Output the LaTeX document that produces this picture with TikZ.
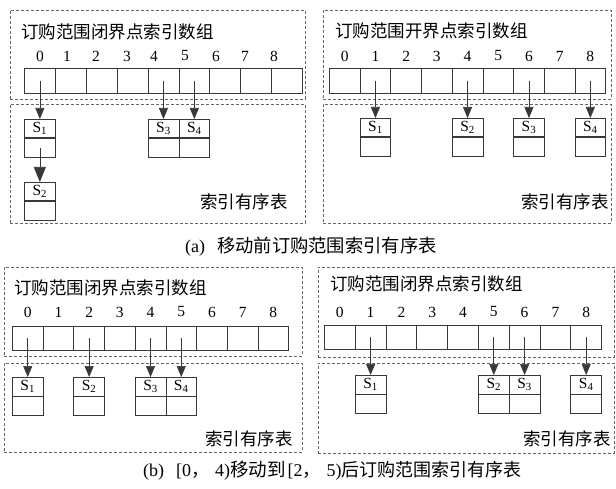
\documentclass[tikz,border=0pt]{standalone}
\usepackage{fontspec}
\setmainfont{Liberation Serif}
\newfontfamily\cjk{Noto Sans CJK SC}
\usetikzlibrary{arrows.meta}
\definecolor{linec}{gray}{0.22}
\definecolor{dashc}{gray}{0.4}
\begin{document}
\begin{tikzpicture}[x=1pt,y=-1pt,
  dbox/.style={draw=dashc, line width=0.8pt, dash pattern=on 3pt off 2pt, anchor=north west, inner sep=0pt},
  cell/.style={draw=linec, line width=0.8pt, minimum height=25pt, inner sep=0pt, anchor=north west},
  stop/.style={draw=linec, line width=0.8pt, minimum height=18.5pt, inner sep=0pt, anchor=north, font=\fontsize{15.5}{15.5}\selectfont},
  sbot/.style={draw=linec, line width=0.8pt, minimum height=18.5pt, inner sep=0pt, anchor=north},
  num/.style={font=\fontsize{15.5}{15.5}\selectfont, inner sep=0pt},
  title/.style={font=\fontsize{17.5}{17.5}\selectfont\cjk, inner sep=0pt, anchor=west},
  lbl/.style={font=\fontsize{17.5}{17.5}\selectfont\cjk, inner sep=0pt, anchor=east},
  captext/.style={font=\fontsize{18}{18}\selectfont, inner sep=0pt, anchor=west},
  arr/.style={draw=linec, line width=0.7pt, -{Triangle[length=11pt,width=9pt]}},
  bigarr/.style={draw=linec, line width=0.7pt, -{Triangle[length=15pt,width=12pt]}}]
\useasboundingbox (0,0) rectangle (616,489);
\fill[white] (0,0) rectangle (616,489);

% ---------------- top left ----------------
\node[dbox, minimum width=295pt, minimum height=89pt] (tl-top) at (10,10) {};
\node[dbox, minimum width=295pt, minimum height=119pt] (tl-bot) at (10,104) {};
\node[title] (tl-title) at (21,32) {订购范围闭界点索引数组};
\foreach \i/\x in {0/40,1/67,2/96,3/127,4/154,5/185,6/216,7/245,8/274}
  \node[num] (tl-n\i) at (\x,56) {\i};
\foreach \i in {0,...,8}
  \node[cell, minimum width=30.9pt] (tl-c\i) at ({24+\i*30.9},68) {};
\node[stop, minimum width=30.9pt] (tl-s1) at (tl-c0.center |- 0,119) {S\textsubscript{1}};
\node[sbot, minimum width=30.9pt] (tl-s1b) at (tl-s1.south) {};
\node[stop, minimum width=30.9pt] (tl-s2) at (tl-c0.center |- 0,182) {S\textsubscript{2}};
\node[sbot, minimum width=30.9pt] (tl-s2b) at (tl-s2.south) {};
\node[stop, minimum width=30.9pt] (tl-s3) at (tl-c4.center |- 0,119) {S\textsubscript{3}};
\node[sbot, minimum width=30.9pt] (tl-s3b) at (tl-s3.south) {};
\node[stop, minimum width=30.9pt] (tl-s4) at (tl-c5.center |- 0,119) {S\textsubscript{4}};
\node[sbot, minimum width=30.9pt] (tl-s4b) at (tl-s4.south) {};
\draw[arr] (tl-c0.center) -- (tl-s1.north);
\draw[arr] (tl-c4.center) -- (tl-s3.north);
\draw[arr] (tl-c5.center) -- (tl-s4.north);
\draw[bigarr] (tl-s1b.center) -- (tl-s2.north);
\node[lbl] (tl-lbl) at (288,202) {索引有序表};

% ---------------- top right ----------------
\node[dbox, minimum width=288pt, minimum height=89pt] (tr-top) at (323,10) {};
\node[dbox, minimum width=288pt, minimum height=119pt] (tr-bot) at (323,104) {};
\node[title] (tr-title) at (335,31) {订购范围开界点索引数组};
\foreach \i in {0,...,8}{
  \node[cell, minimum width=30.7pt] (tr-c\i) at ({329+\i*30.7},68) {};
  \node[num] (tr-n\i) at (tr-c\i.center |- 0,56) {\i};}
\node[stop, minimum width=30.7pt] (tr-s1) at (tr-c1.center |- 0,118) {S\textsubscript{1}};
\node[sbot, minimum width=30.7pt] (tr-s1b) at (tr-s1.south) {};
\node[stop, minimum width=30.7pt] (tr-s2) at (tr-c4.center |- 0,118) {S\textsubscript{2}};
\node[sbot, minimum width=30.7pt] (tr-s2b) at (tr-s2.south) {};
\node[stop, minimum width=30.7pt] (tr-s3) at (tr-c6.center |- 0,118) {S\textsubscript{3}};
\node[sbot, minimum width=30.7pt] (tr-s3b) at (tr-s3.south) {};
\node[stop, minimum width=30.7pt] (tr-s4) at (tr-c8.center |- 0,118) {S\textsubscript{4}};
\node[sbot, minimum width=30.7pt] (tr-s4b) at (tr-s4.south) {};
\draw[arr] (tr-c1.center) -- (tr-s1.north);
\draw[arr] (tr-c4.center) -- (tr-s2.north);
\draw[arr] (tr-c6.center) -- (tr-s3.north);
\draw[arr] (tr-c8.center) -- (tr-s4.north);
\node[lbl] (tr-lbl) at (609,202) {索引有序表};

\node[captext] (capa) at (185,247) {(a)\hspace{12pt}{\cjk\fontsize{18.3}{18.3}\selectfont 移动前订购范围索引有序表}};

% ---------------- bottom left ----------------
\node[dbox, minimum width=298pt, minimum height=89pt] (bl-top) at (4,267) {};
\node[dbox, minimum width=298pt, minimum height=89pt] (bl-bot) at (4,363) {};
\node[title] (bl-title) at (14,288) {订购范围闭界点索引数组};
\foreach \i in {0,...,8}{
  \node[cell, minimum width=30.7pt, minimum height=24pt] (bl-c\i) at ({12+\i*30.7},326) {};
  \node[num] (bl-n\i) at (bl-c\i.center |- 0,312) {\i};}
\node[stop, minimum width=30.7pt] (bl-s1) at (bl-c0.center |- 0,377) {S\textsubscript{1}};
\node[sbot, minimum width=30.7pt] (bl-s1b) at (bl-s1.south) {};
\node[stop, minimum width=30.7pt] (bl-s2) at (bl-c2.center |- 0,377) {S\textsubscript{2}};
\node[sbot, minimum width=30.7pt] (bl-s2b) at (bl-s2.south) {};
\node[stop, minimum width=30.7pt] (bl-s3) at (bl-c4.center |- 0,377) {S\textsubscript{3}};
\node[sbot, minimum width=30.7pt] (bl-s3b) at (bl-s3.south) {};
\node[stop, minimum width=30.7pt] (bl-s4) at (bl-c5.center |- 0,377) {S\textsubscript{4}};
\node[sbot, minimum width=30.7pt] (bl-s4b) at (bl-s4.south) {};
\draw[arr] (bl-c0.center) -- (bl-s1.north);
\draw[arr] (bl-c2.center) -- (bl-s2.north);
\draw[arr] (bl-c4.center) -- (bl-s3.north);
\draw[arr] (bl-c5.center) -- (bl-s4.north);
\node[lbl] (bl-lbl) at (293,439) {索引有序表};

% ---------------- bottom right ----------------
\node[dbox, minimum width=296pt, minimum height=90pt] (br-top) at (318,267) {};
\node[dbox, minimum width=296pt, minimum height=90pt] (br-bot) at (318,363) {};
\node[title] (br-title) at (330,284) {订购范围闭界点索引数组};
\foreach \i in {0,...,8}{
  \node[cell, minimum width=30.8pt, minimum height=24pt] (br-c\i) at ({324+\i*30.8},325) {};
  \node[num] (br-n\i) at (br-c\i.center |- 0,312) {\i};}
\node[stop, minimum width=30.8pt] (br-s1) at (br-c1.center |- 0,375) {S\textsubscript{1}};
\node[sbot, minimum width=30.8pt] (br-s1b) at (br-s1.south) {};
\node[stop, minimum width=30.8pt] (br-s2) at (br-c5.center |- 0,375) {S\textsubscript{2}};
\node[sbot, minimum width=30.8pt] (br-s2b) at (br-s2.south) {};
\node[stop, minimum width=30.8pt] (br-s3) at (br-c6.center |- 0,375) {S\textsubscript{3}};
\node[sbot, minimum width=30.8pt] (br-s3b) at (br-s3.south) {};
\node[stop, minimum width=30.8pt] (br-s4) at (br-c8.center |- 0,375) {S\textsubscript{4}};
\node[sbot, minimum width=30.8pt] (br-s4b) at (br-s4.south) {};
\draw[arr] (br-c1.center) -- (br-s1.north);
\draw[arr] (br-c5.center) -- (br-s2.north);
\draw[arr] (br-c6.center) -- (br-s3.north);
\draw[arr] (br-c8.center) -- (br-s4.north);
\node[lbl] (br-lbl) at (611,439) {索引有序表};

\node[captext] (capb) at (143,471) {(b)\hspace{12pt}[0{\cjk ，}\hspace{6pt}4){\cjk\fontsize{18.5}{18.5}\selectfont 移动到}\hspace{2pt}[2{\cjk ，}\hspace{6pt}5){\cjk\fontsize{18}{18}\selectfont 后订购范围索引有序表}};
\end{tikzpicture}
\end{document}
